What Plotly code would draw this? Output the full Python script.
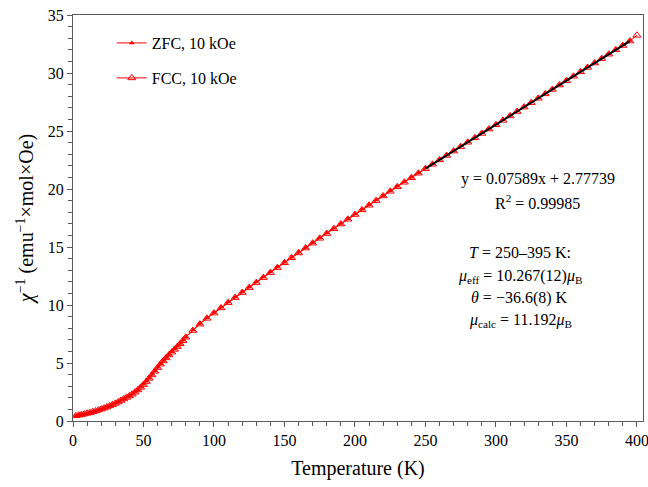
import plotly.graph_objects as go

# ---- data ----
T_low = [2, 4, 6, 8, 10, 12, 14, 16, 18, 20, 22, 24, 26, 28, 30, 32, 34, 36, 38, 40,
         42, 44, 46, 48, 50, 52, 54, 56, 58, 60, 62, 64, 66, 68, 70, 72, 74, 76, 78, 80]
T_high = [85, 90, 95, 100, 105, 110, 115, 120, 125, 130, 135, 140, 145, 150, 155, 160,
          165, 170, 175, 180, 185, 190, 195, 200, 205, 210, 215, 220, 225, 230, 235, 240,
          245, 250, 255, 260, 265, 270, 275, 280, 285, 290, 295, 300, 305, 310, 315, 320,
          325, 330, 335, 340, 345, 350, 355, 360, 365, 370, 375, 380, 385, 390, 395]

fcc_T = T_low + T_high + [400]
fcc_chi = [0.45, 0.50, 0.55, 0.60, 0.66, 0.72, 0.79, 0.86, 0.94, 1.02,
           1.11, 1.20, 1.30, 1.41, 1.52, 1.64, 1.77, 1.90, 2.03, 2.16,
           2.31, 2.48, 2.68, 2.90, 3.14, 3.40, 3.68, 3.97, 4.28, 4.60,
           4.90, 5.18, 5.44, 5.69, 5.93, 6.17, 6.41, 6.66, 6.93, 7.22,
           7.80, 8.35, 8.85, 9.30, 9.75, 10.20, 10.64, 11.07, 11.50, 11.93,
           12.36, 12.79, 13.22, 13.64, 14.07, 14.49, 14.91, 15.33, 15.75, 16.16,
           16.57, 16.98, 17.39, 17.80, 18.20, 18.60, 19.00, 19.40, 19.80, 20.19,
           20.58, 20.97, 21.36, 21.75, 22.13, 22.51, 22.89, 23.27, 23.65, 24.03,
           24.41, 24.79, 25.17, 25.54, 25.92, 26.30, 26.68, 27.06, 27.44, 27.82,
           28.20, 28.58, 28.96, 29.34, 29.72, 30.10, 30.48, 30.86, 31.24, 31.62,
           32.00, 32.37, 32.75, 33.25]

zfc_T = T_low + T_high
zfc_chi = [0.46, 0.51, 0.56, 0.61, 0.67, 0.73, 0.80, 0.87, 0.95, 1.03,
           1.12, 1.21, 1.31, 1.42, 1.53, 1.65, 1.78, 1.91, 2.05, 2.18,
           2.33, 2.50, 2.70, 2.92, 3.17, 3.43, 3.71, 4.00, 4.31, 4.63,
           4.93, 5.21, 5.47, 5.72, 5.96, 6.20, 6.44, 6.69, 6.96, 7.25,
           7.85, 8.40, 8.90, 9.35, 9.80, 10.25, 10.69, 11.12, 11.55, 11.98,
           12.41, 12.84, 13.27, 13.69, 14.12, 14.54, 14.96, 15.38, 15.80, 16.21,
           16.62, 17.03, 17.44, 17.85, 18.25, 18.65, 19.05, 19.45, 19.85, 20.24,
           20.63, 21.02, 21.41, 21.80, 22.18, 22.56, 22.94, 23.32, 23.70, 24.08,
           24.46, 24.84, 25.22, 25.59, 25.97, 26.35, 26.73, 27.11, 27.49, 27.87,
           28.25, 28.63, 29.01, 29.39, 29.77, 30.15, 30.53, 30.91, 31.29, 31.67,
           32.05, 32.42, 32.80]

fit_T = [250, 395]
fit_chi = [21.75, 32.75]

x_ticks = [0, 50, 100, 150, 200, 250, 300, 350, 400]
y_ticks = [0, 5, 10, 15, 20, 25, 30, 35]

FONT = "Liberation Serif, Times New Roman, serif"
RED = "#FF0000"
AX = "#595959"

fig = go.Figure()
fig.add_trace(go.Scatter(
    x=fcc_T, y=fcc_chi, mode="lines+markers", name="FCC, 10 kOe",
    line=dict(color=RED, width=1),
    marker=dict(symbol="triangle-up-open", size=7, color=RED, line=dict(width=1, color=RED)),
    legend="legend2"))
fig.add_trace(go.Scatter(
    x=zfc_T, y=zfc_chi, mode="lines+markers", name="ZFC, 10 kOe",
    line=dict(color=RED, width=1),
    marker=dict(symbol="triangle-up", size=5, color=RED),
    legend="legend"))
fig.add_trace(go.Scatter(
    x=fit_T, y=fit_chi, mode="lines", showlegend=False,
    line=dict(color="black", width=2)))

leg_common = dict(font=dict(family=FONT, size=16, color="black"),
                  bgcolor="rgba(0,0,0,0)", xanchor="left", yanchor="middle",
                  itemwidth=30)
fig.update_layout(
    width=648, height=487,
    margin=dict(l=73, r=5, t=15, b=66, autoexpand=False),
    paper_bgcolor="white", plot_bgcolor="white",
    font=dict(family=FONT, size=16, color="black"),
    legend=dict(x=0.068, y=1 - (43 - 15) / 406, **leg_common),
    legend2=dict(x=0.068, y=1 - (78 - 15) / 406, **leg_common),
    xaxis=dict(range=[0, 404.3], tickvals=x_ticks, showgrid=False, zeroline=False,
               showline=True, linecolor=AX, linewidth=1, mirror=True,
               ticks="outside", ticklen=5, tickcolor=AX,
               ticklabeloverflow="allow", automargin=False,
               minor=dict(dtick=10, ticks="outside", ticklen=4, tickcolor=AX),
               tickfont=dict(family=FONT, size=16),
               title=dict(text="Temperature (K)", font=dict(family=FONT, size=20), standoff=12)),
    yaxis=dict(range=[0, 35], tickvals=y_ticks, showgrid=False, zeroline=False,
               showline=True, linecolor=AX, linewidth=1, mirror=True,
               ticks="outside", ticklen=5, tickcolor=AX, automargin=False,
               minor=dict(dtick=1, ticks="outside", ticklen=4, tickcolor=AX),
               tickfont=dict(family=FONT, size=16),
               title=dict(text="<i>χ</i><sup>−1</sup> (emu<sup>−1</sup>×mol×Oe)",
                          font=dict(family=FONT, size=20), standoff=8)),
)

ann = [
    ("y = 0.07589x + 2.77739", 538, 179),
    ("R<sup>2</sup> = 0.99985", 537, 202),
    ("<i>T</i> = 250–395 K:", 520, 253),
    ("<i>μ</i><sub>eff</sub> = 10.267(12)<i>μ</i><sub>B</sub>", 520, 276),
    ("<i>θ</i> = −36.6(8) K", 519, 298),
    ("<i>μ</i><sub>calc</sub> = 11.192<i>μ</i><sub>B</sub>", 520, 320),
]
for txt, px, py in ann:
    fig.add_annotation(text=txt, xref="paper", yref="paper",
                       x=(px - 73) / 570, y=1 - (py - 15) / 406,
                       xanchor="center", yanchor="middle", showarrow=False,
                       font=dict(family=FONT, size=16, color="black"))

fig.write_html("out.html")
